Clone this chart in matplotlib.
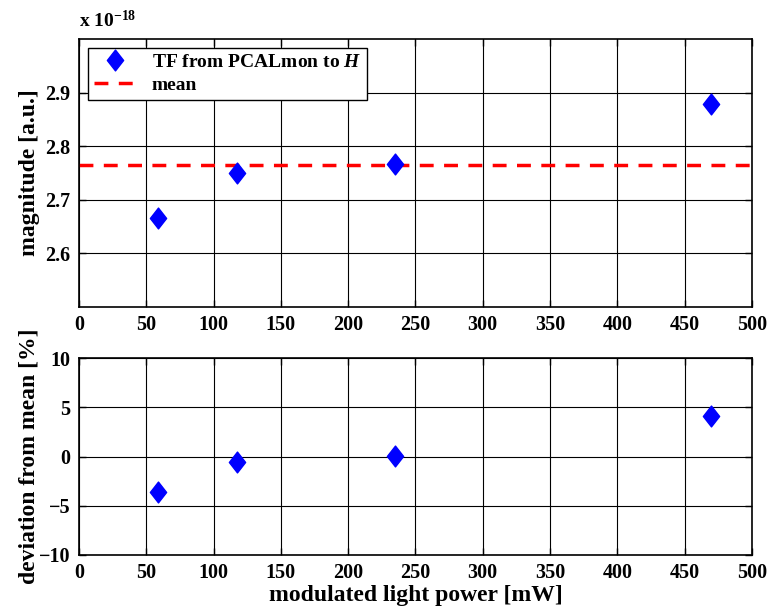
import numpy as np
import matplotlib
matplotlib.use('Agg')
import matplotlib.pyplot as plt
from matplotlib.path import Path

plt.rcParams['font.family'] = ['Liberation Serif', 'DejaVu Serif']
plt.rcParams['font.weight'] = 'bold'
plt.rcParams['mathtext.fontset'] = 'custom'
plt.rcParams['mathtext.rm'] = 'Liberation Serif:bold'
plt.rcParams['mathtext.bf'] = 'Liberation Serif:bold'
plt.rcParams['mathtext.it'] = 'Liberation Serif:bold:italic'

# data
power_mw = [58.75, 117.5, 235, 470]           # modulated light power [mW]
magnitude = [2.665, 2.750, 2.766, 2.879]     # x 1e-18 [a.u.]
scale_exp = -18

mag = np.array(magnitude)
mean_mag = np.mean(mag)
deviation = (mag - mean_mag) / mean_mag * 100

xticks = [0, 50, 100, 150, 200, 250, 300, 350, 400, 450, 500]
yticks_top = [2.6, 2.7, 2.8, 2.9]
yticks_bot = [-10, -5, 0, 5, 10]

# MATLAB-ish diamond (a bit taller than wide)
diamond = Path([(0, 1), (0.78, 0), (0, -1), (-0.78, 0), (0, 1)],
               [Path.MOVETO, Path.LINETO, Path.LINETO, Path.LINETO, Path.CLOSEPOLY])

fig = plt.figure(figsize=(7.69, 6.10), dpi=100)
ax1 = fig.add_axes([0.1027, 0.4975, 0.875, 0.4385])
ax2 = fig.add_axes([0.1027, 0.0902, 0.875, 0.3225])

tick_fs = 14.5
label_fs = 17

# top: magnitude
ax1.plot(power_mw, mag, linestyle='none', marker=diamond, ms=15,
         color='blue', mec='blue', label='TF from PCALmon to $H$', zorder=3)
ax1.axhline(mean_mag, color='red', ls=(0, (4, 3)), lw=2.5, label='mean', zorder=2)
ax1.set_xlim(0, 500)
ax1.set_ylim(2.5, 3.0)
ax1.set_yticks(yticks_top)
ax1.set_yticklabels(['%.1f' % v for v in yticks_top])
ax1.set_ylabel('magnitude [a.u.]', fontsize=label_fs, fontweight='bold')
ax1.text(0, 1.03, 'x 10$^{-%d}$' % -scale_exp,
         transform=ax1.transAxes, fontsize=14, fontweight='bold', va='bottom', ha='left')
leg = ax1.legend(loc='upper left', fontsize=14, frameon=True, fancybox=False,
                 borderaxespad=0.45, handlelength=2.2, borderpad=0.3, labelspacing=0.25)
leg.get_frame().set_edgecolor('black')
leg.get_frame().set_linewidth(1.0)
leg.get_frame().set_alpha(1)

# bottom: deviation
ax2.plot(power_mw, deviation, linestyle='none', marker=diamond, ms=15,
         color='blue', mec='blue', zorder=3)
ax2.set_xlim(0, 500)
ax2.set_ylim(-10, 10)
ax2.set_yticks(yticks_bot)
ax2.set_yticklabels([str(v).replace('-', '\u2212') for v in yticks_bot])
ax2.set_ylabel('deviation from mean [%]', fontsize=label_fs, fontweight='bold')
ax2.set_xlabel('modulated light power [mW]', fontsize=label_fs, fontweight='bold', labelpad=1)

for ax in (ax1, ax2):
    ax.set_xticks(xticks)
    ax.grid(True, color='black', lw=0.8, ls='-')
    ax.set_axisbelow(True)
    ax.tick_params(direction='in', length=5, width=1, labelsize=tick_fs,
                   top=True, right=True, pad=6)
    for lab in ax.get_xticklabels() + ax.get_yticklabels():
        lab.set_fontweight('bold')
    for s in ax.spines.values():
        s.set_linewidth(1.2)
    ax.yaxis.set_label_coords(-0.058, 0.5)

fig.savefig('out.png', dpi=100)
